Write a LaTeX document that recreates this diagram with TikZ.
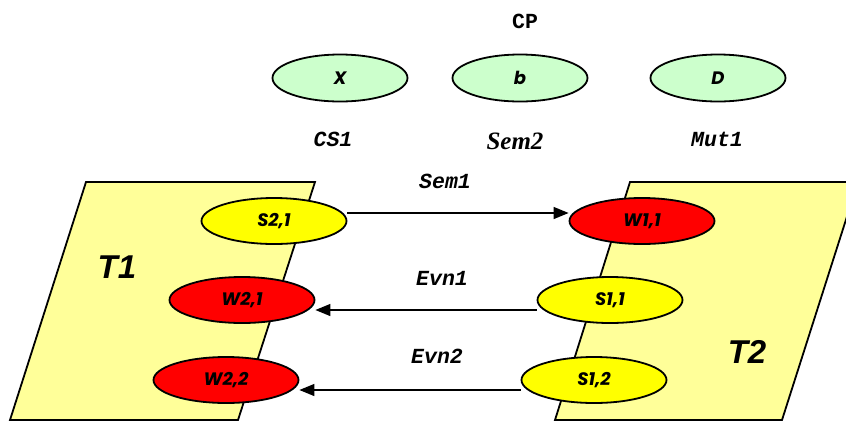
\documentclass[tikz,border=0pt]{standalone}
\usepackage{fontspec}
\usetikzlibrary{shapes.geometric,arrows.meta}
\newfontfamily\popfont{Poppins}
\newfontfamily\monofont{Liberation Mono}
\newfontfamily\serfont{Liberation Serif}
\newfontfamily\arfont{Liberation Sans}
\definecolor{paleyel}{RGB}{255,255,153}
\definecolor{yel}{RGB}{255,255,0}
\definecolor{rd}{RGB}{255,0,0}
\definecolor{grn}{RGB}{204,255,204}
\tikzset{
  ell/.style={ellipse, draw=black, line width=1.8pt, minimum width=145pt, minimum height=46pt, inner sep=0pt, font=\popfont\bfseries\itshape\fontsize{18}{18}\selectfont},
  topell/.style={ell, fill=grn, minimum width=135pt, minimum height=47pt},
  yell/.style={ell, fill=yel},
  rell/.style={ell, fill=rd},
  lbl/.style={font=\monofont\bfseries\itshape\fontsize{21.5}{21.5}\selectfont, inner sep=0pt},
  tlbl/.style={font=\arfont\bfseries\itshape\fontsize{33}{33}\selectfont, inner sep=0pt},
  arr/.style={line width=1.3pt, -{Triangle[length=15pt,width=12pt]}},
  task/.style={fill=paleyel, draw=black, line width=1.8pt},
}
\begin{document}
\begin{tikzpicture}[x=1pt,y=-1pt]
\useasboundingbox (0,0) rectangle (846,421);
\clip (0,0) rectangle (846,421);
% task areas
\draw[task] (86,182) -- (315,182) -- (238,420) -- (10,420) -- cycle;
\draw[task] (630,182) -- (858,182) -- (782,420) -- (555,420) -- cycle;
% top labels
\node[font=\monofont\bfseries\fontsize{21.5}{21.5}\selectfont, inner sep=0pt] (cp) at (525,21) {CP};
\node[topell] (X) at (340,78) {X};
\node[topell] (b) at (520,78) {b};
\node[topell] (D) at (718,78) {D};
\node[lbl] (cs1) at (333,139) {CS1};
\node[font=\serfont\bfseries\itshape\fontsize{25}{25}\selectfont, inner sep=0pt] (sem2) at (515,141) {Sem2};
\node[lbl] (mut1) at (717,139) {Mut1};
% task labels
\node[tlbl] (t1) at (117,267) {T1};
\node[tlbl] (t2) at (747,352) {T2};
% ellipses
\node[yell] (S21) at (274,221) {S2,1};
\node[rell] (W21) at (242,300) {W2,1};
\node[rell] (W22) at (226,380) {W2,2};
\node[rell] (W11) at (642,221) {W1,1};
\node[yell] (S11) at (610,300) {S1,1};
\node[yell] (S12) at (594,380) {S1,2};
% arrows
\draw[arr] ([yshift=8pt]S21.east) -- ([yshift=8pt]W11.west);
\draw[arr] ([yshift=-10pt]S11.west) -- ([yshift=-10pt]W21.east);
\draw[arr] ([yshift=-10pt]S12.west) -- ([yshift=-10pt]W22.east);
\node[lbl] (sem1) at (445,181) {Sem1};
\node[lbl] (evn1) at (442,278) {Evn1};
\node[lbl] (evn2) at (437,356) {Evn2};
\end{tikzpicture}
\end{document}
